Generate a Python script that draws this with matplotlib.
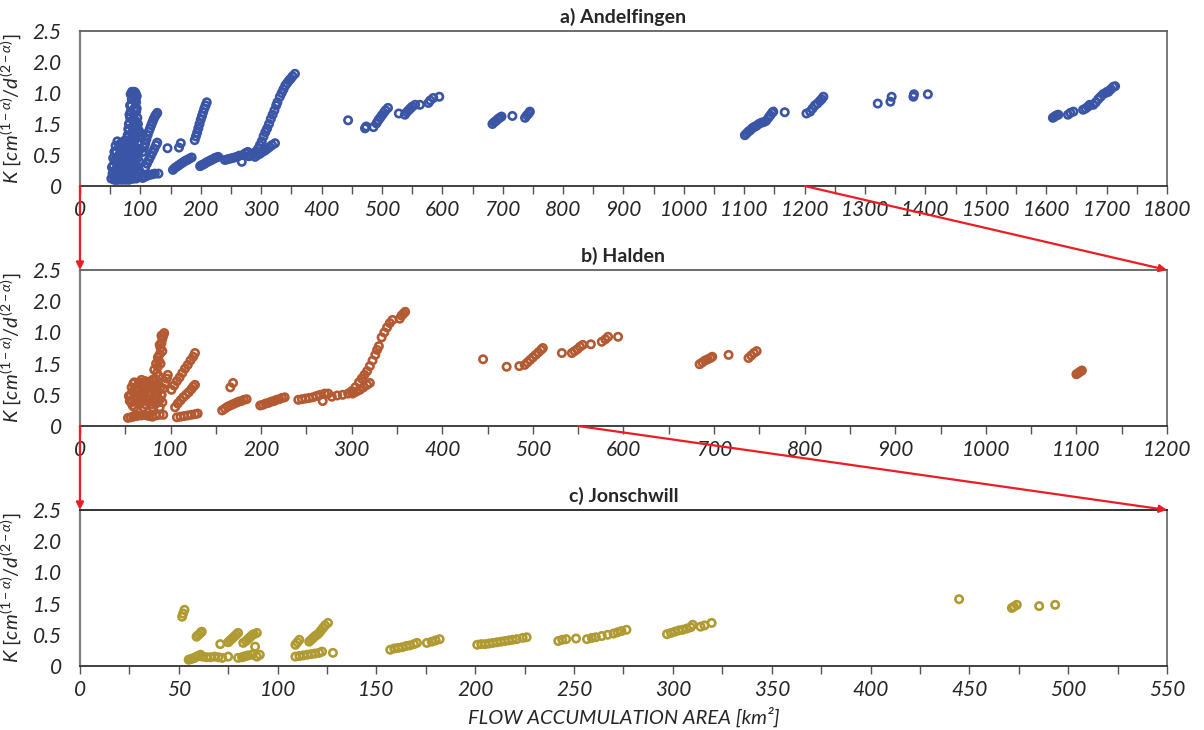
import numpy as np
import matplotlib
matplotlib.use('Agg')
import matplotlib.pyplot as plt
from matplotlib.patches import ConnectionPatch

plt.rcParams['font.family'] = ['Lato', 'DejaVu Sans']
plt.rcParams['mathtext.fontset'] = 'custom'
plt.rcParams['mathtext.it'] = 'Lato:italic'
plt.rcParams['mathtext.rm'] = 'Lato'

# (flow accumulation area km2, K) for each gauging station
andelfingen = [
    # main cluster near the head waters
    (52, 0.12), (54, 0.2), (55, 0.33), (56, 0.15), (58, 0.42), (58, 0.25), (60, 0.1), (60, 0.55),
    (61, 0.3), (62, 0.18), (63, 0.48), (64, 0.62), (65, 0.12), (66, 0.38), (67, 0.25), (68, 0.55),
    (69, 0.7), (70, 0.15), (71, 0.45), (72, 0.32), (73, 0.62), (74, 0.2), (75, 0.74), (76, 0.5),
    (77, 0.12), (78, 0.36), (79, 0.6), (80, 0.25), (81, 0.45), (82, 0.15), (83, 0.68), (84, 0.33),
    (85, 0.52), (86, 0.2), (87, 0.42), (88, 0.12), (89, 0.6), (90, 0.3), (92, 0.18), (93, 0.5),
    (95, 0.25), (96, 0.68), (97, 0.14), (98, 0.4), (99, 0.22),
    (53, 0.3), (55, 0.45), (57, 0.55), (57, 0.1), (59, 0.65), (61, 0.4), (62, 0.72), (63, 0.1),
    (64, 0.28), (65, 0.5), (66, 0.15), (67, 0.68), (68, 0.35), (69, 0.1), (70, 0.58), (71, 0.25),
    (72, 0.7), (73, 0.45), (74, 0.35), (75, 0.1), (76, 0.62), (77, 0.3), (78, 0.48), (79, 0.15),
    (80, 0.62), (81, 0.1), (82, 0.35), (83, 0.5), (84, 0.22), (85, 0.65), (86, 0.4), (87, 0.12),
    (88, 0.3), (89, 0.45), (90, 0.18), (91, 0.6), (92, 0.38), (93, 0.12), (94, 0.3), (95, 0.45),
    (96, 0.15), (97, 0.55), (98, 0.25), (99, 0.6),
    (78, 0.7), (80, 0.8), (81, 0.9), (82, 1.0), (83, 1.1), (84, 1.2), (85, 1.3), (86, 1.4),
    (87, 1.47), (88, 1.5), (85, 0.75), (86, 0.85), (87, 0.95), (88, 1.05), (89, 1.15), (90, 1.25),
    (90, 1.38), (91, 1.47), (92, 1.5), (84, 0.72), (89, 0.8), (91, 0.92), (92, 1.05), (93, 1.2),
    (93, 1.35), (94, 1.45), (95, 0.6), (96, 0.7), (97, 0.8), (98, 0.88),
    (97, 0.9), (96, 1.0), (95, 1.1), (94, 1.25), (92, 1.4), (90, 1.52), (86, 1.52), (84, 1.48),
    (83, 1.3), (82, 1.15), (81, 1.0), (80, 0.92), (79, 0.82), (88, 0.62), (90, 0.72), (92, 0.82),
    (94, 0.95), (96, 0.85), (98, 0.7),
    # branches between 100 and 130
    (104, 0.55), (106, 0.62), (108, 0.68), (110, 0.75), (112, 0.82), (114, 0.88), (116, 0.93),
    (118, 0.98), (120, 1.03), (122, 1.08), (124, 1.12), (126, 1.15), (128, 1.18),
    (108, 0.3), (111, 0.36), (114, 0.42), (117, 0.48), (120, 0.54), (123, 0.6), (126, 0.66), (128, 0.7),
    (104, 0.13), (108, 0.15), (112, 0.17), (116, 0.18), (120, 0.19), (124, 0.2), (130, 0.2),
    (145, 0.61), (164, 0.62), (167, 0.69),
    (154, 0.26), (157, 0.29), (160, 0.31), (163, 0.33), (166, 0.35), (169, 0.37), (172, 0.39),
    (175, 0.41), (178, 0.42), (181, 0.44), (185, 0.46),
    (190, 0.74), (192, 0.8), (194, 0.86), (196, 0.93), (198, 1.0), (200, 1.07), (202, 1.13),
    (204, 1.19), (206, 1.25), (208, 1.3), (210, 1.35),
    (199, 0.32), (202, 0.34), (205, 0.35), (208, 0.37), (211, 0.39), (214, 0.4), (217, 0.42),
    (220, 0.43), (223, 0.45), (226, 0.46), (229, 0.47),
    (240, 0.42), (244, 0.43), (248, 0.44), (252, 0.45), (256, 0.46), (260, 0.47), (264, 0.49),
    (268, 0.39), (270, 0.5), (274, 0.53), (278, 0.55),
    (280, 0.48), (284, 0.5), (288, 0.53), (292, 0.56), (295, 0.6), (298, 0.66), (301, 0.72),
    (304, 0.8), (307, 0.87), (310, 0.93), (313, 1.0), (316, 1.08), (319, 1.15), (322, 1.22),
    (325, 1.3), (327, 1.35), (331, 1.44), (334, 1.5), (337, 1.56), (340, 1.62), (343, 1.66),
    (346, 1.7), (349, 1.73), (352, 1.77), (356, 1.81),
    (290, 0.47), (294, 0.5), (298, 0.52), (302, 0.55), (306, 0.57), (310, 0.6), (314, 0.63),
    (318, 0.66), (323, 0.69),
    # middle reach
    (444, 1.06), (472, 0.93), (474, 0.96), (486, 0.95), (491, 1.01), (494, 1.06), (497, 1.1),
    (500, 1.14), (503, 1.18), (506, 1.22), (510, 1.26), (528, 1.17), (538, 1.15), (541, 1.19),
    (544, 1.22), (547, 1.25), (550, 1.28), (555, 1.31), (563, 1.31), (577, 1.34), (580, 1.38),
    (585, 1.42), (595, 1.44),
    (683, 1.0), (686, 1.03), (689, 1.05), (692, 1.08), (695, 1.1), (698, 1.12), (716, 1.13),
    (737, 1.1), (740, 1.14), (743, 1.17), (745, 1.2),
    # lower reach
    (1101, 0.82), (1104, 0.85), (1107, 0.88), (1110, 0.9), (1113, 0.93), (1116, 0.95), (1120, 0.97),
    (1124, 1.0), (1128, 1.02), (1132, 1.03), (1136, 1.05), (1140, 1.1), (1143, 1.14), (1146, 1.18),
    (1148, 1.2), (1167, 1.19),
    (1203, 1.17), (1209, 1.2), (1213, 1.25), (1217, 1.3), (1221, 1.33), (1225, 1.37), (1228, 1.4),
    (1231, 1.44),
    (1321, 1.33), (1342, 1.36), (1344, 1.44), (1380, 1.44), (1381, 1.48), (1404, 1.48),
    (1611, 1.1), (1614, 1.12), (1617, 1.14), (1620, 1.15), (1636, 1.15), (1640, 1.18), (1645, 1.2),
    (1661, 1.23), (1665, 1.25), (1669, 1.28), (1672, 1.31), (1678, 1.31), (1682, 1.35), (1686, 1.4),
    (1690, 1.44), (1694, 1.48), (1698, 1.5), (1701, 1.52), (1703, 1.52), (1707, 1.56), (1711, 1.6),
    (1714, 1.61),
]

halden = [
    (53, 0.13), (56, 0.14), (59, 0.15), (62, 0.16), (65, 0.17), (68, 0.17), (71, 0.18), (74, 0.17),
    (77, 0.16), (80, 0.15), (84, 0.17), (88, 0.18), (92, 0.18),
    (55, 0.4), (56, 0.5), (57, 0.62), (58, 0.33), (60, 0.7), (61, 0.45), (63, 0.56), (64, 0.38),
    (66, 0.66), (67, 0.5), (68, 0.74), (70, 0.42), (71, 0.6), (73, 0.34), (74, 0.7), (76, 0.52),
    (77, 0.64), (79, 0.4), (80, 0.74), (82, 0.58), (84, 0.36), (85, 0.48), (87, 0.66), (88, 0.3),
    (90, 0.5),
    (54, 0.48), (57, 0.38), (58, 0.55), (59, 0.68), (60, 0.3), (62, 0.6), (63, 0.42), (65, 0.7),
    (66, 0.35), (68, 0.55), (69, 0.64), (70, 0.3), (72, 0.48), (72, 0.72), (74, 0.4), (75, 0.6),
    (78, 0.5), (78, 0.7), (80, 0.3), (81, 0.62), (83, 0.45), (86, 0.55), (86, 0.38), (89, 0.62),
    (91, 0.38),
    (80, 0.35), (81, 0.45), (82, 0.55), (83, 0.65), (84, 0.75), (85, 0.85), (86, 0.95), (87, 1.05),
    (88, 1.15), (89, 1.25), (90, 1.33), (91, 1.4), (92, 1.45), (93, 1.49),
    (82, 0.9), (84, 1.0), (86, 1.1), (88, 1.3), (90, 1.45), (91, 1.2), (89, 1.0), (87, 0.8),
    (88, 0.42), (90, 0.5), (92, 0.6), (94, 0.68), (96, 0.76), (97, 0.82),
    (101, 0.58), (104, 0.65), (107, 0.72), (110, 0.78), (113, 0.85), (116, 0.92), (119, 0.98),
    (122, 1.05), (125, 1.11), (127, 1.17),
    (105, 0.3), (108, 0.36), (111, 0.41), (114, 0.46), (117, 0.5), (120, 0.54), (123, 0.59),
    (125, 0.63), (127, 0.66),
    (107, 0.14), (111, 0.15), (115, 0.16), (119, 0.17), (123, 0.18), (127, 0.19), (130, 0.2),
    (166, 0.62), (169, 0.69),
    (157, 0.25), (160, 0.28), (163, 0.31), (166, 0.33), (169, 0.35), (172, 0.37), (175, 0.39),
    (178, 0.4), (181, 0.42), (184, 0.43),
    (199, 0.33), (202, 0.34), (205, 0.36), (208, 0.37), (211, 0.39), (214, 0.4), (217, 0.42),
    (220, 0.43), (223, 0.45), (226, 0.46),
    (241, 0.42), (245, 0.43), (249, 0.44), (253, 0.45), (257, 0.46), (261, 0.48), (265, 0.5),
    (268, 0.4), (270, 0.52), (274, 0.52),
    (278, 0.47), (284, 0.49), (290, 0.5), (296, 0.52), (300, 0.56), (304, 0.62), (308, 0.7),
    (311, 0.76), (314, 0.82), (317, 0.88), (320, 0.96), (323, 1.05), (326, 1.14), (328, 1.22),
    (330, 1.28), (333, 1.42), (336, 1.5), (339, 1.58), (342, 1.65), (345, 1.7), (353, 1.72),
    (355, 1.77), (357, 1.8), (359, 1.83),
    (301, 0.52), (305, 0.55), (309, 0.58), (313, 0.62), (317, 0.66), (320, 0.69),
    (445, 1.07), (471, 0.95), (485, 0.96), (491, 0.98), (494, 1.02), (497, 1.06), (500, 1.1),
    (503, 1.14), (506, 1.18), (509, 1.22), (511, 1.25), (532, 1.17), (543, 1.17), (546, 1.2),
    (549, 1.23), (552, 1.27), (555, 1.3), (564, 1.31), (576, 1.35), (580, 1.39), (583, 1.43),
    (594, 1.43),
    (684, 0.99), (687, 1.02), (690, 1.05), (693, 1.07), (696, 1.09), (698, 1.11), (716, 1.14),
    (738, 1.09), (741, 1.13), (744, 1.17), (747, 1.2),
    (1100, 0.83), (1102, 0.85), (1104, 0.87), (1106, 0.89),
]

jonschwill = [
    (51.7, 0.79), (52.2, 0.84), (52.9, 0.9),
    (59, 0.47), (60, 0.5), (61, 0.53), (61.6, 0.55),
    (55, 0.1), (56, 0.11), (57, 0.12), (58, 0.13), (59, 0.15), (60, 0.16), (61, 0.18),
    (62, 0.15), (64, 0.14), (66, 0.14), (68, 0.15), (70, 0.14), (72, 0.13), (75, 0.15),
    (71, 0.35), (75, 0.38), (76, 0.41), (77, 0.44), (78, 0.47), (79, 0.5), (80, 0.53),
    (80, 0.13), (82, 0.14), (83, 0.15), (84, 0.16), (85, 0.17), (87, 0.18),
    (89.5, 0.15), (91, 0.18),
    (82.6, 0.37), (84, 0.4), (85, 0.43), (86, 0.46), (87, 0.49), (88, 0.51), (89.5, 0.53), (88.6, 0.31),
    (109, 0.34), (110, 0.38), (111, 0.42),
    (116, 0.39), (117, 0.42), (118, 0.45), (119, 0.48), (120, 0.5), (121, 0.53), (122, 0.57),
    (123, 0.61), (124, 0.65), (125.5, 0.69),
    (109, 0.15), (111, 0.16), (113, 0.17), (115, 0.18), (117, 0.19), (119, 0.2), (121, 0.21),
    (122.5, 0.23), (128, 0.21),
    (157, 0.26), (159, 0.28), (161, 0.29), (163, 0.3), (165, 0.32), (167, 0.33), (169, 0.35),
    (170.5, 0.37),
    (175.5, 0.37), (178, 0.39), (180, 0.41), (182, 0.43),
    (201, 0.34), (203, 0.35), (205, 0.35), (207, 0.36), (209, 0.37), (211, 0.38), (213, 0.39),
    (215, 0.4), (217, 0.41), (219, 0.42), (221, 0.43), (224, 0.45), (226, 0.46),
    (242, 0.4), (244, 0.42), (246, 0.43), (251, 0.44),
    (256.5, 0.43), (259, 0.45), (261, 0.46), (264, 0.48), (267, 0.5), (270, 0.52), (272, 0.54),
    (274, 0.56), (276.5, 0.58),
    (297, 0.51), (299, 0.53), (301, 0.55), (303, 0.57), (305, 0.58), (307, 0.6), (309, 0.62),
    (310, 0.66), (314, 0.63), (316, 0.65), (319.6, 0.69),
    (444.8, 1.07), (471.5, 0.93), (472.5, 0.95), (474, 0.98), (485.3, 0.96), (493.4, 0.98),
]

titles = ['a) Andelfingen', 'b) Halden', 'c) Jonschwill']
colors = ['#3a55a5', '#b45a33', '#b09a32']
x_max = [1800, 1200, 550]
x_major = [100, 100, 50]
x_minor = [50, 50, 25]
y_ticks = [0, 0.5, 1.0, 1.5, 2.0, 2.5]
y_ticklabels = ['0', '0.5', '1.5', '1.0', '2.0', '2.5']

ylab = r'$\mathit{K\ [cm^{(1-\alpha)}/d^{(2-\alpha)}]}$'
txt = '#262626'

fig = plt.figure(figsize=(12.04, 7.3), dpi=100)
boxes = [[0.0664, 0.7452, 0.9029, 0.2123],
         [0.0664, 0.4164, 0.9029, 0.2137],
         [0.0664, 0.0877, 0.9029, 0.2137]]
axes = []
for i, pts in enumerate([andelfingen, halden, jonschwill]):
    ax = fig.add_axes(boxes[i])
    d = np.array(pts)
    ax.scatter(d[:, 0], d[:, 1], s=28, facecolors='none', edgecolors=colors[i],
               linewidths=1.9, clip_on=False, zorder=3)
    ax.set_xlim(0, x_max[i])
    ax.set_ylim(0, 2.5)
    ax.set_xticks(np.arange(0, x_max[i] + 1, x_major[i]))
    ax.set_xticks(np.arange(0, x_max[i] + 1, x_minor[i]), minor=True)
    ax.tick_params(axis='x', which='both', direction='out', length=6, width=1,
                   color='#555555', labelsize=15, labelcolor=txt, pad=4)
    ax.set_yticks(y_ticks)
    ax.set_yticklabels(y_ticklabels)
    ax.set_yticks([0, 2.5], minor=True)
    ax.tick_params(axis='y', which='major', length=0, labelsize=15, labelcolor=txt, pad=13)
    ax.tick_params(axis='y', which='minor', length=6, width=1, color='#555555')
    for lab in ax.get_xticklabels() + ax.get_yticklabels():
        lab.set_fontstyle('italic')
    ax.spines['left'].set_color('#808080')
    ax.spines['left'].set_linewidth(1.6)
    ax.spines['right'].set_color('#707070')
    ax.spines['right'].set_linewidth(1.3)
    ax.spines['top'].set_color('#222222' if i == 2 else '#606060')
    ax.spines['top'].set_linewidth(1.3)
    ax.spines['bottom'].set_color('#333333')
    ax.spines['bottom'].set_linewidth(1.3)
    ax.set_title(titles[i], fontsize=14, fontweight='bold', color=txt, pad=6)
    ax.set_ylabel(ylab, fontsize=14.5, color=txt)
    ax.yaxis.set_label_coords(-0.052, 0.5)
    axes.append(ax)

axes[2].set_xlabel('FLOW ACCUMULATION AREA [km²]', fontsize=14.5, fontstyle='italic',
                   color=txt, labelpad=5)

# red arrows showing the x range that is zoomed into in the next panel
zoom_links = [(0, 0, 1, 0), (0, 1200, 1, 1200), (1, 0, 2, 0), (1, 550, 2, 550)]
for a, xa, b, xb in zoom_links:
    con = ConnectionPatch(xyA=(xa, 0), coordsA=axes[a].transData,
                          xyB=(xb, 2.5), coordsB=axes[b].transData,
                          arrowstyle='-|>', color='#ed1c24', lw=1.6,
                          mutation_scale=11, zorder=10)
    fig.add_artist(con)

fig.savefig('out.png', dpi=100)
